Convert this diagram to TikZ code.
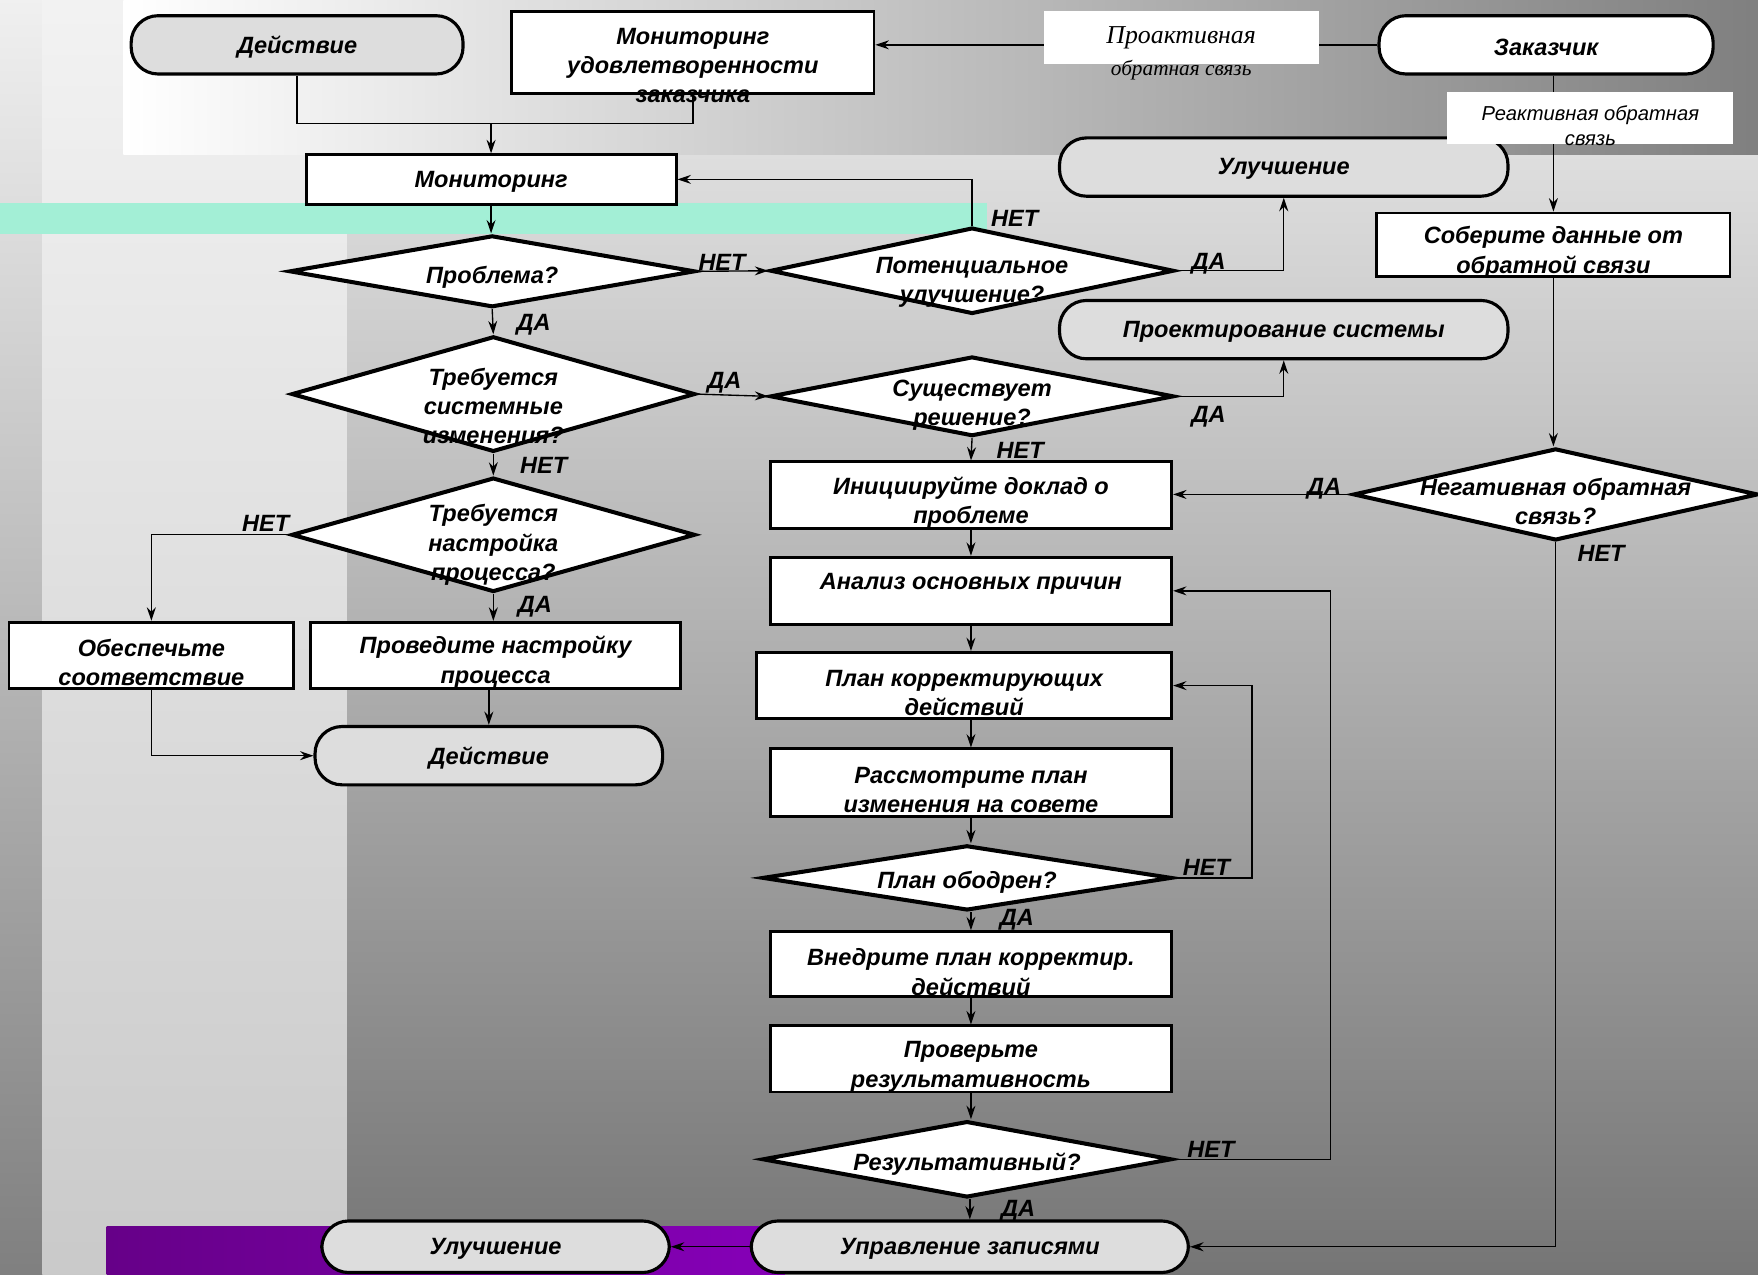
\documentclass[tikz,border=0pt]{standalone}
\usepackage{fontspec}
\setmainfont{Liberation Sans}
\newfontfamily\serifit{Liberation Serif}
\usepackage{xcolor}
\usetikzlibrary{calc, shapes.geometric, positioning, arrows.meta}

\definecolor{termgray}{RGB}{221,221,221}
\definecolor{mint}{RGB}{163,239,214}
\definecolor{purpA}{RGB}{102,0,136}
\definecolor{purpB}{RGB}{134,0,184}

\begin{document}
\begin{tikzpicture}[>={Stealth[length=12pt, width=8pt, inset=4pt]}, x=1pt, y=-1pt,
    box/.style={draw, line width=2.6pt, fill=white, inner sep=0pt},
    dia/.style={diamond, draw, line width=3.6pt, fill=white, inner sep=0pt},
    term/.style={draw, line width=2.8pt, fill=termgray, rounded corners=24pt, inner sep=0pt},
    lab/.style={align=center, inner sep=0pt, yshift=-2, font=\bfseries\itshape\fontsize{21}{26}\selectfont},
    yn/.style={inner sep=0pt, font=\bfseries\itshape\fontsize{21}{24}\selectfont},
    conn/.style={line width=1.2pt},
    arr/.style={conn, ->}]
    \useasboundingbox (0,0) rectangle (1568,1137);

    % фон
    \shade[top color=black!6, bottom color=black!50] (0,0) rectangle (38,1137);
    \shade[top color=black!5, bottom color=black!21] (38,0) rectangle (310,1137);
    \shade[top color=black!13, bottom color=black!54] (310,138) rectangle (1568,1137);
    \shade[left color=white, right color=black!50] (110,0) rectangle (1568,138);
    \fill[mint] (0,181) rectangle (880,209);
    \shade[left color=purpA, right color=purpB] (95,1094) rectangle (700,1137);

    % верхний ряд
    \node[term, minimum width=296, minimum height=52, label={[lab]center:Действие}] (act1) at (265,40) {};
    \node[box, minimum width=323, minimum height=73,
        label={[lab, yshift=-10]center:{Мониторинг\\удовлетворенности\\заказчика}}] (msat) at (618,46.5) {};
    \node[term, fill=white, minimum width=298, minimum height=52, label={[lab]center:Заказчик}] (zak) at (1379,40) {};

    % левая и средняя колонки
    \node[box, minimum width=330, minimum height=44, label={[lab]center:Мониторинг}] (mon) at (438,160) {};
    \node[term, minimum width=400, minimum height=52, label={[lab]center:Улучшение}] (imp1) at (1145,149) {};
    \node[box, minimum width=315, minimum height=57,
        label={[lab, yshift=-4.5]center:{Соберите данные от\\обратной связи}}] (col) at (1385.5,218.5) {};
    \node[dia, minimum width=362, minimum height=64, label={[lab, yshift=-3]center:Проблема?}] (prob) at (439,242) {};
    \node[dia, minimum width=360, minimum height=77,
        label={[lab, yshift=-8.5]center:{Потенциальное\\улучшение?}}] (pot) at (867,241.5) {};
    \node[term, minimum width=400, minimum height=52, label={[lab]center:Проектирование системы}] (proj) at (1145,294) {};
    \node[dia, minimum width=360, minimum height=103,
        label={[lab, yshift=-8.5]center:{Требуется\\системные\\изменения?}}] (sys) at (440,351.5) {};
    \node[dia, minimum width=360, minimum height=71,
        label={[lab, yshift=-6]center:{Существует\\решение?}}] (sol) at (867,353.5) {};
    \node[box, minimum width=358, minimum height=59,
        label={[lab, yshift=-4.5]center:{Инициируйте доклад о\\проблеме}}] (init) at (866,441.5) {};
    \node[dia, minimum width=361, minimum height=82,
        label={[lab, yshift=-4]center:{Негативная обратная\\связь?}}] (neg) at (1387.5,441) {};
    \node[dia, minimum width=360, minimum height=102,
        label={[lab, yshift=-7]center:{Требуется\\настройка\\процесса?}}] (proc) at (440,477) {};
    \node[box, minimum width=358, minimum height=60,
        label={[lab, yshift=8]center:Анализ основных причин}] (ana) at (866,527) {};
    \node[box, minimum width=254, minimum height=59,
        label={[lab, yshift=-4]center:{Обеспечьте\\соответствие}}] (conf) at (135,584.5) {};
    \node[box, minimum width=330, minimum height=59,
        label={[lab, yshift=-4]center:{Проведите настройку\\процесса}}] (tune) at (442,584.5) {};
    \node[box, minimum width=370, minimum height=59,
        label={[lab, yshift=-4.5]center:{План корректирующих\\действий}}] (plan) at (860,611.5) {};
    \node[term, minimum width=310, minimum height=52, label={[lab]center:Действие}] (act2) at (436,674) {};
    \node[box, minimum width=358, minimum height=60,
        label={[lab, yshift=-5]center:{Рассмотрите план\\изменения на совете}}] (rev) at (866,698) {};
    \node[dia, minimum width=365, minimum height=58, label={[lab, yshift=-2]center:План ободрен?}] (appr) at (862.5,783) {};
    \node[box, minimum width=358, minimum height=58,
        label={[lab, yshift=-5]center:{Внедрите план корректир.\\действий}}] (impl) at (866,860) {};
    \node[box, minimum width=358, minimum height=59,
        label={[lab, yshift=-5]center:{Проверьте\\результативность}}] (chk) at (866,944.5) {};
    \node[dia, minimum width=365, minimum height=68, label={[lab, yshift=-2]center:Результативный?}] (eff) at (862.5,1034) {};
    \node[term, minimum width=310, minimum height=46, label={[lab]center:Улучшение}] (imp2) at (442,1112) {};
    \node[term, minimum width=390, minimum height=46, label={[lab]center:Управление записями}] (rec) at (865,1112) {};

    % связи
    \coordinate (j1) at (438,110);
    \draw[conn] (act1.south) |- (j1) -| (msat.south);
    \draw[arr] (j1) -- (mon.north);
    \draw[arr] (zak.west) -- (zak.west -| msat.east);
    \draw[arr] (col.north |- zak.south) -- (col.north);
    \draw[arr] (mon.south) -- (mon.south |- prob.north);
    \draw[arr] (prob.east) -- (pot.west);
    \draw[arr] (pot.north) |- (mon.east);
    \draw[arr] (pot.east) -| (imp1.south);
    \draw[arr] (prob.south) -- (sys.north);
    \draw[arr] (sys.east) -- (sol.west);
    \draw[arr] (sol.east) -| (proj.south);
    \draw[arr] (sol.south) -- (init.north);
    \draw[arr] (sys.south) -- (proc.north);
    \draw[arr] (proc.west) -| (conf.north);
    \draw[arr] (proc.south) -- (proc.south |- tune.north);
    \draw[arr] (act2.north |- tune.south) -- (act2.north);
    \draw[arr] (conf.south) |- (act2.west);
    \draw[arr] (col.south) -- (col.south |- neg.north);
    \draw[arr] (neg.west) -- (neg.west -| init.east);
    \draw[arr] (neg.south) |- (rec.east);
    \draw[arr] (init.south) -- (ana.north);
    \draw[arr] (ana.south) -- (ana.south |- plan.north);
    \draw[arr] (rev.north |- plan.south) -- (rev.north);
    \draw[arr] (rev.south) -- (rev.south |- appr.north);
    \draw[arr] (impl.north |- appr.south) -- (impl.north);
    \draw[arr] (impl.south) -- (chk.north);
    \draw[arr] (chk.south) -- (chk.south |- eff.north);
    \draw[arr] (rec.north |- eff.south) -- (rec.north);
    \draw[arr] (appr.east) -- ++(70,0) |- (plan.east);
    \draw[arr] (eff.east) -- ++(140,0) |- (ana.east);
    \draw[arr] (rec.west) -- (imp2.east);

    % подписи обратной связи
    \node[fill=white, minimum width=245, minimum height=47, inner sep=0pt,
        label={[inner sep=0pt, font=\serifit\itshape\fontsize{23}{26}\selectfont]center:Проактивная},
        label={[inner sep=0pt, yshift=-29, font=\serifit\itshape\fontsize{19}{22}\selectfont]center:обратная связь}] (proa) at (1053.5,33.5) {};
    \node[fill=white, minimum width=255, minimum height=46, inner sep=0pt,
        label={[align=center, inner sep=0pt, yshift=-7, font=\itshape\fontsize{18}{22}\selectfont]center:{Реактивная обратная\\связь}}] (rea) at (1418.5,105) {};

    % ДА / НЕТ
    \node[yn] (n1) at (644,234) {НЕТ};
    \node[yn] (n2) at (905,195) {НЕТ};
    \node[yn] (y1) at (1078,235) {ДА};
    \node[yn] (y2) at (476,290) {ДА};
    \node[yn] (y3) at (646,341) {ДА};
    \node[yn] (y4) at (1078,372) {ДА};
    \node[yn] (n3) at (910,402) {НЕТ};
    \node[yn] (n4) at (485,415) {НЕТ};
    \node[yn] (n5) at (237,467) {НЕТ};
    \node[yn] (y5) at (477,541) {ДА};
    \node[yn] (y6) at (1181,436) {ДА};
    \node[yn] (n6) at (1428,494) {НЕТ};
    \node[yn] (n7) at (1076,774) {НЕТ};
    \node[yn] (y7) at (907,820) {ДА};
    \node[yn] (n8) at (1080,1025) {НЕТ};
    \node[yn] (y8) at (908,1080) {ДА};
\end{tikzpicture}
\end{document}
